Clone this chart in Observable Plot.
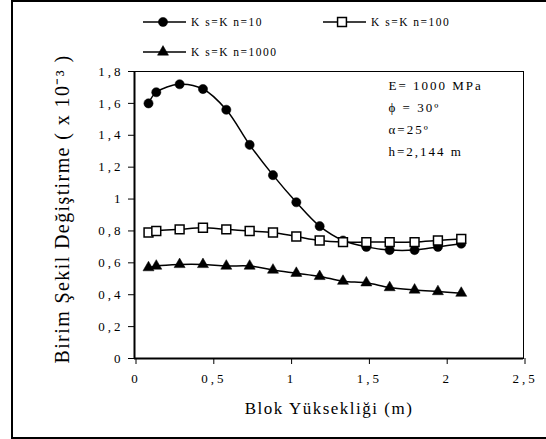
<!DOCTYPE html>
<html>
<head>
<meta charset="utf-8">
<script src="https://cdn.jsdelivr.net/npm/d3@7"></script>
<script src="https://cdn.jsdelivr.net/npm/@observablehq/plot@0.6"></script>
<style>
  html, body { margin: 0; padding: 0; background: #fff; }
  #wrap { position: relative; width: 546px; height: 439px; overflow: hidden; font-family: "Liberation Serif", "Times New Roman", serif; }
  #border { position: absolute; left: 11px; top: 0px; width: 600px; height: 435px; border: 2px solid #000; border-right: none; box-sizing: content-box; pointer-events: none; }
  #chart { position: absolute; left: 0; top: 0; }
  #legend { position: absolute; left: 0; top: 0; }
  .tick-spaced text { letter-spacing: 3px; }
  .xlabel text { letter-spacing: 1.5px; }
  .ylabel text { letter-spacing: 1.4px; }
  .annot text { letter-spacing: 2px; }
</style>
</head>
<body>
<div id="wrap">
  <div id="chart"></div>
  <svg id="legend" width="546" height="70"></svg>
  <div id="border"></div>
</div>
<script>
// Data
const blockHeight = [0.09, 0.14, 0.29, 0.44, 0.59, 0.74, 0.89, 1.04, 1.19, 1.34, 1.49, 1.64, 1.80, 1.95, 2.10];
const ks10   = [1.60, 1.67, 1.72, 1.69, 1.56, 1.34, 1.15, 0.98, 0.83, 0.74, 0.70, 0.68, 0.68, 0.70, 0.72];
const ks100  = [0.79, 0.80, 0.81, 0.82, 0.81, 0.80, 0.79, 0.765, 0.74, 0.73, 0.73, 0.73, 0.73, 0.74, 0.75];
const ks1000 = [0.57, 0.58, 0.59, 0.59, 0.58, 0.58, 0.555, 0.535, 0.515, 0.485, 0.475, 0.445, 0.43, 0.42, 0.41];
const seriesNames = ["K s=K n=10", "K s=K n=100", "K s=K n=1000"];
const seriesSymbols = ["circle", "square", "triangle"];
const seriesFills = ["black", "white", "black"];
const xTicks = [0, 0.5, 1, 1.5, 2, 2.5];
const yTicks = [0, 0.2, 0.4, 0.6, 0.8, 1, 1.2, 1.4, 1.6, 1.8];
const annotation = ["E= 1000 MPa", "ϕ = 30º", "α=25º", "h=2,144 m"];
const xLabel = "Blok Yüksekliği (m)";
const yLabel = "Birim Şekil Değiştirme ( x 10⁻³ )";

const seriesValues = [ks10, ks100, ks1000];
const rows = seriesValues.map((vals, i) =>
  blockHeight.map((x, j) => ({x, y: vals[j], series: seriesNames[i]})));

const fmt = d => String(d).replace(".", ",");
const font = "Liberation Serif";

const marks = [
  Plot.frame({stroke: "black", strokeWidth: 1}),
  Plot.axisX({ticks: xTicks, tickFormat: fmt, tickSize: 6, tickPadding: 9, fontSize: 13, label: null, className: "tick-spaced", dx: 1.5}),
  Plot.axisY({ticks: yTicks, tickFormat: fmt, tickSize: 6, tickPadding: 5, fontSize: 13, label: null, className: "tick-spaced"}),
  Plot.ruleX([0], {stroke: "black", strokeWidth: 2}),
  Plot.ruleY([0], {stroke: "black", strokeWidth: 2}),
  Plot.text([xLabel], {frameAnchor: "bottom", dy: 55, fontSize: 17, fill: "black", textAnchor: "middle", lineAnchor: "bottom", text: d => d, fontFamily: font, className: "xlabel"}),
  Plot.text([yLabel], {frameAnchor: "left", dx: -72, dy: -6, rotate: -90, textAnchor: "middle", lineAnchor: "middle", fontSize: 20, fill: "black", text: d => d, fontFamily: font, className: "ylabel"}),
  Plot.text([annotation.join("\n")], {frameAnchor: "top-left", dx: 254, dy: 3, lineHeight: 1.7, fontSize: 13, fill: "black", textAnchor: "start", lineAnchor: "top", text: d => d, fontFamily: font, className: "annot"})
];
rows.forEach((data, i) => {
  marks.push(Plot.line(data, {x: "x", y: "y", stroke: "black", strokeWidth: 1.5, curve: "catmull-rom"}));
});
const radii = [4.6, 5.0, 4.1];
rows.forEach((data, i) => {
  marks.push(Plot.dot(data, {x: "x", y: "y", symbol: () => seriesSymbols[i], r: radii[i], fill: seriesFills[i], stroke: "black", strokeWidth: i === 1 ? 1.5 : 0.5}));
});

const chart = Plot.plot({
  width: 546,
  height: 439,
  marginLeft: 134,
  marginRight: 23,
  marginTop: 71,
  marginBottom: 81,
  style: {fontFamily: font, color: "black", background: "white", fontSize: "13px"},
  x: {domain: [0, 2.5]},
  y: {domain: [0, 1.8]},
  marks
});
document.getElementById("chart").appendChild(chart);

// Legend (top)
const legend = d3.select("#legend");
const legendPos = [[143, 22], [323, 22], [143, 52]];
seriesNames.forEach((name, i) => {
  const [lx, ly] = legendPos[i];
  const g = legend.append("g").attr("transform", `translate(${lx},${ly})`);
  g.append("line").attr("x1", 0).attr("x2", 43).attr("y1", 0).attr("y2", 0).attr("stroke", "black").attr("stroke-width", 1.5);
  const sym = {circle: d3.symbolCircle, square: d3.symbolSquare, triangle: d3.symbolTriangle}[seriesSymbols[i]];
  g.append("path").attr("d", d3.symbol(sym, Math.PI * radii[i] * radii[i])())
    .attr("transform", `translate(${i === 1 ? 19 : 20},0)`)
    .attr("fill", seriesFills[i]).attr("stroke", "black").attr("stroke-width", i === 1 ? 1.5 : 0.5);
  g.append("text").attr("x", 48).attr("y", 4).attr("font-size", 11.5).attr("font-family", font)
    .attr("letter-spacing", "1.5px").text(name);
});
</script>
</body>
</html>
